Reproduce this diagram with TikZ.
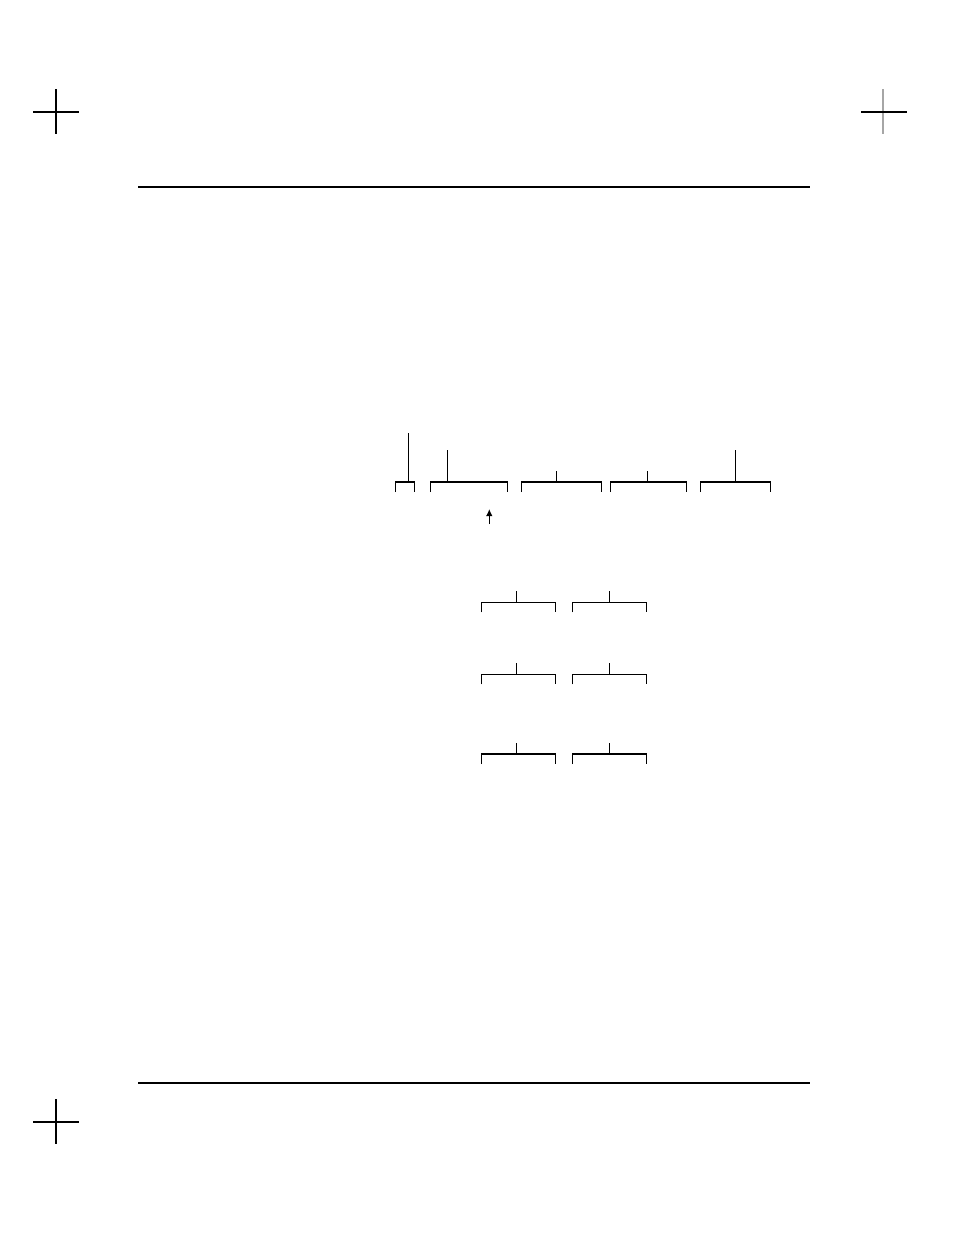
\documentclass[tikz,border=0pt]{standalone}
\usetikzlibrary{arrows.meta}
\tikzset{brace line/.style={line width=1.2pt}}
\tikzset{rule line/.style={line width=1.6pt}}
\tikzset{crop line/.style={line width=1.1pt}}
% left, right, y, stem x, stem top
\newcommand\fieldbrace[5]{
	\draw[brace line] (#1,#3+10) -- (#1,#3) -- (#2,#3) -- (#2,#3+10);
	\draw[brace line] (#4,#3) -- (#4,#5);
}
\newcommand\cropmark[2]{
	\draw[crop line] (#1-23,#2) -- (#1+23,#2);
	\draw[crop line] (#1,#2-23) -- (#1,#2+22);
}

\begin{document}
\begin{tikzpicture}[x=1pt, y=-1pt]
	\useasboundingbox (0,0) rectangle (954,1235);

	% crop marks
	\cropmark{56}{112}
	\cropmark{56}{1122}
	\draw[crop line, black!35] (883,89) -- (883,134);
	\draw[crop line] (861,112) -- (907,112);

	% page rules
	\draw[rule line] (138,187) -- (810,187);
	\draw[rule line] (138,1083) -- (810,1083);

	% top row of fields
	\fieldbrace{395.7}{414.3}{482}{408.3}{432.7}
	\fieldbrace{430.3}{507.3}{482}{447.7}{450.3}
	\fieldbrace{521.7}{601.3}{482}{556.3}{471.3}
	\fieldbrace{610.7}{686.7}{482}{647.3}{471.3}
	\fieldbrace{700.7}{770.7}{482}{735.3}{450.3}
	\coordinate (tail) at (489.3,524);
	\coordinate (head) at (489.3,509);
	\draw[brace line,-{Latex[length=7pt,width=6.5pt]}] (tail) -- (head);

	% lower rows
	\foreach \y/\t in {602.3/591, 674.3/662.7, 754/743} {
		\fieldbrace{481.7}{555.7}{\y}{516.3}{\t}
		\fieldbrace{572.3}{646.3}{\y}{609.3}{\t}
	}
\end{tikzpicture}
\end{document}
